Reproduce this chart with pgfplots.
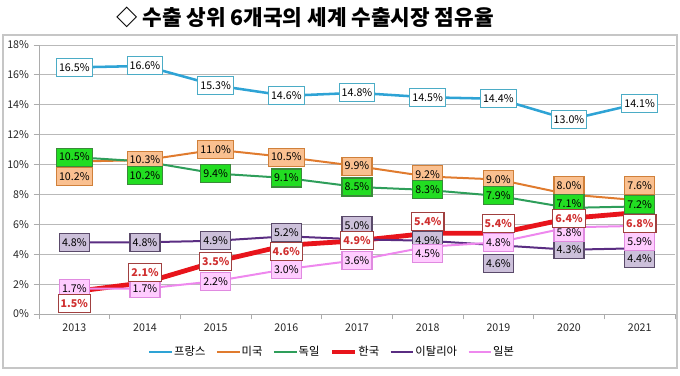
\documentclass[border=0pt]{standalone}
\usepackage{pgfplots}
\pgfplotsset{compat=1.18}
\usepackage{pgfplotstable}
\usepackage{fontspec}
\setmainfont{Noto Sans CJK KR}
\definecolor{cFr}{HTML}{2EA3D5}
\definecolor{cFrB}{HTML}{4BACC6}
\definecolor{cUs}{HTML}{E07B2E}
\definecolor{cUsF}{HTML}{FAC090}
\definecolor{cUsB}{HTML}{D0803A}
\definecolor{cDe}{HTML}{2E9E5A}
\definecolor{cDeF}{HTML}{22DD22}
\definecolor{cDeB}{HTML}{3A8A3A}
\definecolor{cKr}{HTML}{E8141B}
\definecolor{cKrT}{HTML}{D03030}
\definecolor{cKrB}{HTML}{A04040}
\definecolor{cIt}{HTML}{5A2D82}
\definecolor{cItF}{HTML}{CCC0DA}
\definecolor{cItB}{HTML}{5A4A6A}
\definecolor{cJp}{HTML}{EE88EE}
\definecolor{cJpF}{HTML}{FFCCFF}
\definecolor{cJpB}{HTML}{E08AE0}

\pgfplotstableread{
x y dy
0 16.5 0
1 16.6 0
2 15.3 0
3 14.6 0
4 14.8 0
5 14.5 0
6 14.4 0
7 13.0 0
8 14.1 0
}\fr
\pgfplotstableread{
x y dy
0 10.2 -11.5
1 10.3 0
2 11.0 0
3 10.5 0
4 9.9 0
5 9.2 1.5
6 9.0 0
7 8.0 6.5
8 7.6 11
}\us
\pgfplotstableread{
x y dy
0 10.5 0
1 10.2 -10.5
2 9.4 0
3 9.1 0
4 8.5 0
5 8.3 0
6 7.9 0
7 7.1 3
8 7.2 1.5
}\de
\pgfplotstableread{
x y dy
0 1.5 -9
1 2.1 7.5
2 3.5 0
3 4.6 -4.5
4 4.9 0
5 5.4 9
6 5.4 7.5
7 6.4 0
8 6.8 -8
}\kr
\pgfplotstableread{
x y dy
0 4.8 0
1 4.8 0
2 4.9 0
3 5.2 2.5
4 5.0 10
5 4.9 0
6 4.6 -13.5
7 4.3 0
8 4.4 -8
}\it
\pgfplotstableread{
x y dy
0 1.7 0
1 1.7 0
2 2.2 0
3 3.0 0
4 3.6 0
5 4.5 -5
6 4.8 0
7 5.8 -4
8 5.9 -12
}\jp

\tikzset{
 lbl/.style={line width=0.8pt, inner xsep=2pt, inner ysep=1pt, minimum height=13.5pt, font=\fontsize{8}{9}\selectfont, text=black},
}
\pgfplotsset{
 lblplot/.style={draw=none, mark=none, forget plot, nodes near coords={\pgfmathprintnumber[fixed,fixed zerofill,precision=1]{\pgfplotspointmeta}\%}, point meta=y,
   visualization depends on={\thisrow{dy} \as \dy},
   every node near coord/.append style={anchor=center, yshift=\dy pt, lbl, #1}},
}

\begin{document}
\begin{tikzpicture}
\useasboundingbox (0,0) rectangle (510pt,281.25pt);
\draw[gray!45, line width=1.2pt] (2.25pt,5.25pt) rectangle (507.75pt,255pt);
\node[font=\bfseries\fontsize{16}{19}\selectfont] at (228.75pt,268.5pt) {◇ 수출 상위 6개국의 세계 수출시장 점유율};
\begin{axis}[
 at={(29.25pt,45.75pt)}, anchor=south west,
 scale only axis, width=477pt, height=201.75pt,
 clip=false,
 xmin=-0.5, xmax=8.5, ymin=0, ymax=18,
 xtick={0,...,8}, xticklabels={2013,2014,2015,2016,2017,2018,2019,2020,2021},
 ytick={0,2,...,18}, yticklabel={\pgfmathprintnumber{\tick}\%},
 ymajorgrids, grid style={gray!55, line width=0.6pt},
 axis x line*=bottom, axis y line*=left,
 axis line style={gray!65, line width=0.6pt},
 major x tick style={draw=none},
 minor xtick={-0.5,0.5,...,8.5},
 tick style={gray!65, line width=0.6pt},
 tick align=outside,
 minor tick length=4pt, major tick length=4pt,
 tick label style={font=\fontsize{8}{9}\selectfont, text=black!85},
 /pgf/number format/assume math mode=true,
 legend columns=6,
 legend style={draw=none, fill=none, at={(0.46,-0.141)}, anchor=center,
   font=\fontsize{8.5}{10}\selectfont, nodes={inner xsep=0.8pt},
   /tikz/every even column/.append style={column sep=7pt}},
 legend image code/.code={\draw[#1] (0pt,0pt) -- (17pt,0pt);},
]
\addplot[cFr, line width=1.9pt] table[x=x,y=y]{\fr};
\addlegendentry{프랑스}
\addplot[cUs, line width=1.5pt] table[x=x,y=y]{\us};
\addlegendentry{미국}
\addplot[cDe, line width=1.5pt] table[x=x,y=y]{\de};
\addlegendentry{독일}
\addplot[cKr, line width=3.6pt] table[x=x,y=y]{\kr};
\addlegendentry{한국}
\addplot[cIt, line width=1.5pt] table[x=x,y=y]{\it};
\addlegendentry{이탈리아}
\addplot[cJp, line width=1.5pt] table[x=x,y=y]{\jp};
\addlegendentry{일본}

\addplot[lblplot={draw=cFrB, fill=white}] table[x=x,y=y]{\fr};
\addplot[lblplot={draw=cUsB, fill=cUsF}] table[x=x,y=y]{\us};
\addplot[lblplot={draw=cDeB, fill=cDeF}] table[x=x,y=y]{\de};
\addplot[lblplot={draw=cItB, fill=cItF}] table[x=x,y=y]{\it};
\addplot[lblplot={draw=cJpB, fill=cJpF}] table[x=x,y=y]{\jp};
\addplot[lblplot={draw=cKrB, fill=white, text=cKrT, font=\bfseries\fontsize{8}{9}\selectfont}] table[x=x,y=y]{\kr};
\end{axis}
\end{tikzpicture}
\end{document}
